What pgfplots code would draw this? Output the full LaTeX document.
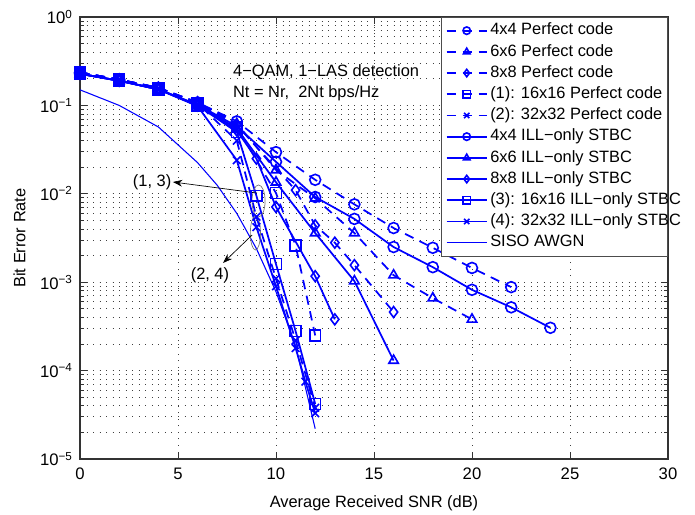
\documentclass[border=0pt]{standalone}
\usepackage{pgfplots}
\pgfplotsset{compat=1.18}
\usepackage{fontspec}
\setmainfont{Liberation Sans}
\usetikzlibrary{arrows.meta}
\definecolor{mblue}{RGB}{0,0,255}
\newcommand{\lt}[1]{\makebox[128pt][l]{#1}}
\begin{document}
\begin{tikzpicture}
\begin{axis}[
  scale only axis, width=441pt, height=331.5pt,
  xmin=0, xmax=30, ymode=log, ymin=1e-5, ymax=1,
  xtick={0,5,...,30},
  ytick={1e-5,1e-4,1e-3,1e-2,1e-1,1},
  yticklabels={10\textsuperscript{−5},10\textsuperscript{−4},10\textsuperscript{−3},10\textsuperscript{−2},10\textsuperscript{−1},10\textsuperscript{0}},
  /pgf/number format/assume math mode=true,
  font=\fontsize{12.3}{14}\selectfont,
  tick label style={font=\fontsize{12.5}{14}\selectfont},
  xticklabel style={yshift=-3pt},
  yticklabel style={xshift=-2pt},
  xlabel style={yshift=-5pt},
  ylabel style={yshift=4pt},
  xmajorgrids, ymajorgrids, yminorgrids,
  major grid style={black!75, line width=0.7pt, dash pattern=on 0.7pt off 4.2pt},
  minor grid style={black!75, line width=0.7pt, dash pattern=on 0.7pt off 4.2pt},
  axis line style={black!80, line width=0.8pt},
  tick style={black!80, line width=0.6pt},
  major tick length=5pt, minor tick length=3pt,
  tick align=inside,
  xlabel={Average Received SNR (dB)},
  ylabel={Bit Error Rate},
  every axis plot/.append style={mblue, line width=1.3pt, mark size=4.1pt, mark options={solid, line width=1.2pt}},
  legend style={at={(1,1)}, anchor=north east, draw=black!70, line width=0.6pt, fill=white,
    font=\fontsize{12.3}{14}\selectfont, row sep=0pt, inner xsep=3pt, inner ysep=2pt,
    nodes={inner ysep=2.1pt, text height=9pt, text depth=2.7pt}},
  legend cell align=left,
  legend image code/.code={\draw[mark repeat=2,mark phase=2,mark size=2.8pt] plot coordinates {(0pt,0pt) (15pt,0pt) (30pt,0pt)};},
]
\addplot[dash pattern=on 7pt off 5pt, mark=o] coordinates {(0,0.236)(2,0.196)(4,0.158)(6,0.108)(8,0.066)(10,0.0296)(12,0.0144)(14,0.0076)(16,0.0041)(18,0.00245)(20,0.00145)(22,0.00088)};
\addlegendentry{\lt{4x4 Perfect code}}
\addplot[dash pattern=on 7pt off 5pt, mark=triangle] coordinates {(0,0.236)(2,0.196)(4,0.158)(6,0.108)(8,0.062)(10,0.0186)(12,0.0089)(14,0.0036)(16,0.0012)(18,0.00066)(20,0.00038)};
\addlegendentry{\lt{6x6 Perfect code}}
\addplot[dash pattern=on 7pt off 5pt, mark=diamond] coordinates {(0,0.236)(2,0.196)(4,0.158)(6,0.107)(8,0.06)(11,0.011)(12,0.0044)(13,0.0028)(14,0.00156)(16,0.00046)};
\addlegendentry{\lt{8x8 Perfect code}}
\addplot[dash pattern=on 7pt off 5pt, mark=square] coordinates {(0,0.236)(2,0.196)(4,0.158)(6,0.106)(8,0.057)(10,0.0102)(11,0.0026)(12,0.00025)};
\addlegendentry{\lt{(1): 16x16 Perfect code}}
\addplot[dash pattern=on 7pt off 5pt, mark=x] coordinates {(0,0.236)(2,0.196)(4,0.158)(6,0.105)(8,0.04)(9,0.0055)(10,0.0011)(11,0.00022)(12,0.000038)};
\addlegendentry{\lt{(2): 32x32 Perfect code}}
\addplot[mark=o] coordinates {(0,0.228)(2,0.19)(4,0.152)(6,0.102)(8,0.058)(10,0.023)(12,0.0092)(14,0.0052)(16,0.0025)(18,0.00148)(20,0.00082)(22,0.00052)(24,0.000305)};
\addlegendentry{\lt{4x4 ILL−only STBC}}
\addplot[mark=triangle] coordinates {(0,0.228)(2,0.19)(4,0.152)(6,0.1)(8,0.055)(10,0.0135)(12,0.0036)(14,0.00103)(16,0.00013)};
\addlegendentry{\lt{6x6 ILL−only STBC}}
\addplot[mark=diamond] coordinates {(0,0.228)(2,0.19)(4,0.152)(6,0.1)(8,0.052)(9,0.025)(10,0.0071)(12,0.00117)(13,0.00038)};
\addlegendentry{\lt{8x8 ILL−only STBC}}
\addplot[mark=square] coordinates {(0,0.228)(2,0.19)(4,0.152)(6,0.1)(8,0.05)(9,0.0095)(10,0.0016)(11,0.00028)(12,0.000042)};
\addlegendentry{\lt{(3): 16x16 ILL−only STBC}}
\addplot[mark=x] coordinates {(0,0.228)(2,0.19)(4,0.152)(6,0.098)(8,0.024)(9,0.0042)(10,0.0009)(11,0.00018)(11.5,0.000075)(12,0.000033)};
\addlegendentry{\lt{(4): 32x32 ILL−only STBC}}
\addplot[line width=0.8pt, mark=none] coordinates {(0,0.15)(2,0.1)(4,0.057)(6,0.0225)(7,0.0125)(8,0.006)(9,0.0024)(10,0.00078)(11,0.00019)(12,0.000022)};
\addlegendentry{\lt{SISO AWGN}}
\node[anchor=west, inner sep=0pt, font=\fontsize{12.3}{14}\selectfont] at (axis cs:7.8,0.238) {4−QAM, 1−LAS detection};
\node[anchor=west, inner sep=0pt, font=\fontsize{12.3}{14}\selectfont] at (axis cs:7.8,0.138) {Nt = Nr,\ \ 2Nt bps/Hz};
\draw[black!55, line width=0.5pt] (axis cs:9.11,0.0083) ellipse [x radius=4.9pt, y radius=12pt];
\draw[black!55, line width=0.5pt] (axis cs:8.95,0.0036) ellipse [x radius=3.8pt, y radius=12.7pt];
\draw[-{Stealth[length=7pt,width=5pt]}, black, line width=0.5pt] (axis cs:9.03,0.0102) -- (axis cs:4.74,0.0136) node[anchor=east, inner sep=1pt, font=\fontsize{12.3}{14}\selectfont] {(1, 3)};
\draw[-{Stealth[length=7pt,width=5pt]}, black, line width=0.5pt] (axis cs:8.78,0.00342) -- (axis cs:7.3,0.00165);
\node[font=\fontsize{12.3}{14}\selectfont] at (axis cs:6.63,0.0012) {(2, 4)};
\end{axis}
\pgfresetboundingbox
\path ([xshift=-60pt,yshift=-41.25pt]current axis.south west) rectangle ([xshift=20.25pt,yshift=12.75pt]current axis.north east);
\end{tikzpicture}
\end{document}
